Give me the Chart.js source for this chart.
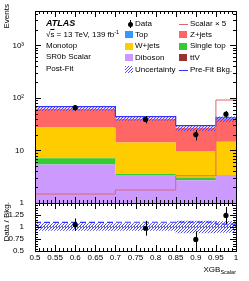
<!DOCTYPE html>
<html>
<head>
<meta charset="utf-8">
<script src="https://cdn.jsdelivr.net/npm/chart.js@4/dist/chart.umd.min.js"></script>
<style>
  body { margin: 0; background: #fff; }
  #wrap { position: relative; width: 249px; height: 281px; font-family: "Liberation Sans", Arial, sans-serif; color: #000; }
  canvas { position: absolute; left: 0; top: 0; }
  .t { position: absolute; font-size: 8px; line-height: 8px; white-space: nowrap; }
  .rot { position: absolute; left: 0; top: 0; font-size: 8px; line-height: 8px; white-space: nowrap; transform-origin: 0 0; }
  .sw { position: absolute; }
  sup { font-size: 5.5px; vertical-align: 0; position: relative; top: -3px; }
  sub { font-size: 5.5px; vertical-align: 0; position: relative; top: 2px; }
</style>
</head>
<body>
<div id="wrap">
  <canvas id="main" width="249" height="281"></canvas>
  <canvas id="ratio" width="249" height="281"></canvas>

  <div class="rot" style="transform: translate(3px, 4px) rotate(-90deg) translate(-100%, 0);">Events</div>
  <div class="rot" style="transform: translate(3px, 202px) rotate(-90deg) translate(-100%, 0);">Data / Bkg.</div>
  <div class="t" style="right:13px; top:266px;">XGB<sub>Scalar</sub></div>

  <div class="t" style="left:46px; top:19px; font-size:9px; font-weight:bold; font-style:italic;">ATLAS</div>
  <div class="t" style="left:46px; top:31px;">√<span style="text-decoration:overline">s</span> = 13 TeV, 139 fb<sup>-1</sup></div>
  <div class="t" style="left:46px; top:42px;">Monotop</div>
  <div class="t" style="left:46px; top:53px;">SR0b Scalar</div>
  <div class="t" style="left:46px; top:65px;">Post-Fit</div>

  <div id="legend"></div>
</div>

<script>
// bins of XGB_Scalar
const binEdges = [0.5, 0.7, 0.85, 0.95, 1.0];
const dataX = [0.6, 0.775, 0.9, 0.975];

// observed events
const dataCounts = [65, 39, 20, 49];
const dataErr = [8.1, 6.2, 4.5, 7.0];

// post-fit backgrounds (stacked bottom -> top)
const diboson = [5.4, 3.4, 2.7, 3.4];
const singleTop = [1.7, 0.15, 0.35, 0];
const ttV = [0, 0, 0, 0];
const topQuark = [0, 0, 0, 0];
const wjets = [20.1, 10.6, 6.7, 11.3];
const zjets = [34.8, 25.9, 17.2, 24.8];

const prefitBkg = [68, 44, 29.7, 41.8];
const uncRel = [0.08, 0.08, 0.13, 0.12];
const scalarX5 = [1.48, 1.77, 3.3, 91];

// axis ticks
const xTicks = [0.5, 0.55, 0.6, 0.65, 0.7, 0.75, 0.8, 0.85, 0.9, 0.95, 1.0];
const yTicksMain = [1, 10, 100, 1000];
const yLabelsMain = ['1', '10', '10²', '10³'];
const yTicksRatio = [0.5, 0.75, 1, 1.25];

Chart.defaults.font.family = '"Liberation Sans", Arial, sans-serif';
Chart.defaults.font.size = 8;
Chart.defaults.color = '#000';

// hatch pattern for the uncertainty band
function hatch() {
  const c = document.createElement('canvas');
  c.width = 3; c.height = 3;
  const g = c.getContext('2d');
  g.strokeStyle = '#4a4aff';
  g.lineWidth = 1;
  g.beginPath();
  g.moveTo(0, 3); g.lineTo(3, 0);
  g.moveTo(-1, 1); g.lineTo(1, -1);
  g.moveTo(2, 4); g.lineTo(4, 2);
  g.stroke();
  return g.createPattern(c, 'repeat');
}
const hatchFill = hatch();

// histogram as step points
const steps = vals => binEdges.map((x, i) => ({ x, y: vals[Math.min(i, vals.length - 1)] }));

const stackDefs = [
  ['Diboson', diboson, '#cc99ff'],
  ['Single top', singleTop, '#33cc33'],
  ['ttV', ttV, '#993333'],
  ['Top', topQuark, '#3399ff'],
  ['W+jets', wjets, '#ffcc00'],
  ['Z+jets', zjets, '#ff6666']
];

let cum = binEdges.slice(1).map(() => 0);
const stackSets = stackDefs.map(([label, vals, color], k) => {
  cum = cum.map((c, i) => c + vals[i]);
  return {
    label, data: steps(cum), stepped: 'before', fill: k === 0 ? 'start' : '-1',
    backgroundColor: color, borderColor: 'rgba(0,0,0,0)', borderWidth: 1, pointRadius: 0, order: 10
  };
});
const total = cum;

const ratioData = dataCounts.map((d, i) => d / total[i]);
const ratioErr = dataErr.map((e, i) => e / total[i]);
const ratioPrefit = prefitBkg.map((p, i) => p / total[i]);

// ROOT style frame and inner ticks
const frameTicks = {
  id: 'frameTicks',
  afterDatasetsDraw(chart, args, opts) {
    const { ctx, chartArea: a, scales: { x, y } } = chart;
    const px = v => Math.round(v) + 0.5;
    ctx.save();
    ctx.strokeStyle = '#000';
    ctx.lineWidth = 1;
    ctx.beginPath();
    const xt = (vals, len) => vals.forEach(v => {
      const p = px(x.getPixelForValue(v));
      ctx.moveTo(p, a.bottom); ctx.lineTo(p, a.bottom - len);
      ctx.moveTo(p, a.top); ctx.lineTo(p, a.top + len);
    });
    const yt = (vals, len) => vals.forEach(v => {
      const p = px(y.getPixelForValue(v));
      ctx.moveTo(a.left, p); ctx.lineTo(a.left + len, p);
      ctx.moveTo(a.right, p); ctx.lineTo(a.right - len, p);
    });
    xt(opts.xMajor, opts.majorLen); xt(opts.xMinor, opts.minorLen);
    yt(opts.yMajor, opts.majorLen); yt(opts.yMinor, opts.minorLen);
    ctx.stroke();
    ctx.strokeRect(px(a.left), px(a.top), Math.round(a.right - a.left), Math.round(a.bottom - a.top));
    ctx.restore();
  }
};

// vertical error bars on the data points
const errorBars = {
  id: 'errorBars',
  afterDatasetsDraw(chart) {
    const { ctx, scales: { x, y } } = chart;
    ctx.save();
    ctx.strokeStyle = '#000';
    ctx.lineWidth = 1;
    chart.data.datasets.forEach(ds => {
      if (!ds.errorBars) return;
      ds.data.forEach((p, i) => {
        const xp = Math.round(x.getPixelForValue(p.x)) + 0.5;
        ctx.beginPath();
        ctx.moveTo(xp, y.getPixelForValue(p.y - ds.errorBars[i]));
        ctx.lineTo(xp, y.getPixelForValue(p.y + ds.errorBars[i]));
        ctx.stroke();
      });
    });
    ctx.restore();
  }
};

const xMinor = [];
for (let v = 50; v <= 100; v++) if (v % 5) xMinor.push(v / 100);
const yMinorMain = [];
[1, 10, 100, 1000].forEach(d => { for (let k = 2; k <= 9; k++) if (k * d < 4500) yMinorMain.push(k * d); });
const yMinorRatio = [];
for (let v = 50; v <= 150; v += 5) if (v % 25) yMinorRatio.push(v / 100);

const common = {
  responsive: false,
  animation: false,
  events: [],
  plugins: { legend: { display: false }, tooltip: { enabled: false } }
};

new Chart(document.getElementById('main'), {
  type: 'line',
  data: {
    datasets: [
      ...stackSets,
      { label: 'unc low', data: steps(total.map((t, i) => t * (1 - uncRel[i]))), stepped: 'before',
        borderColor: 'rgba(0,0,0,0)', borderWidth: 1, pointRadius: 0, fill: false, order: 5 },
      { label: 'Uncertainty', data: steps(total.map((t, i) => t * (1 + uncRel[i]))), stepped: 'before',
        borderColor: 'rgba(0,0,0,0)', borderWidth: 1, pointRadius: 0, fill: '-1', backgroundColor: hatchFill, order: 5 },
      { label: 'Pre-Fit Bkg.', data: steps(prefitBkg), stepped: 'before', borderColor: '#3333ff',
        borderWidth: 1.2, pointRadius: 0, fill: false, order: 3 },
      { label: 'Scalar × 5', data: steps(scalarX5), stepped: 'before', borderColor: '#e06666',
        borderWidth: 1, pointRadius: 0, fill: false, order: 2 },
      { label: 'Data', data: dataX.map((x, i) => ({ x, y: dataCounts[i] })), showLine: false,
        pointRadius: 2.6, pointBackgroundColor: '#000', pointBorderWidth: 0, errorBars: dataErr, order: 0 }
    ]
  },
  options: {
    ...common,
    layout: { padding: { left: 0, right: 13, top: 11, bottom: 78 } },
    plugins: {
      ...common.plugins,
      frameTicks: { xMajor: xTicks, xMinor, yMajor: yTicksMain, yMinor: yMinorMain, majorLen: 6, minorLen: 3 }
    },
    scales: {
      x: { type: 'linear', min: 0.5, max: 1.0, display: false },
      y: {
        type: 'logarithmic', min: 1, max: 4500,
        afterFit: s => { s.width = 35; },
        afterBuildTicks: s => { s.ticks = yTicksMain.map(value => ({ value })); },
        grid: { display: false }, border: { display: false },
        ticks: { padding: 3, autoSkip: false, callback: v => yLabelsMain[yTicksMain.indexOf(v)] }
      }
    }
  },
  plugins: [frameTicks, errorBars]
});

new Chart(document.getElementById('ratio'), {
  type: 'line',
  data: {
    datasets: [
      { label: 'unc low', data: steps(uncRel.map(u => 1 - u)), stepped: 'before',
        borderColor: 'rgba(0,0,0,0)', borderWidth: 1, pointRadius: 0, fill: false, order: 5 },
      { label: 'unc high', data: steps(uncRel.map(u => 1 + u)), stepped: 'before',
        borderColor: 'rgba(0,0,0,0)', borderWidth: 1, pointRadius: 0, fill: '-1', backgroundColor: hatchFill, order: 5 },
      { label: 'unity', data: [{ x: 0.5, y: 1 }, { x: 1.0, y: 1 }], borderColor: '#000', borderWidth: 1,
        borderDash: [1, 2], pointRadius: 0, fill: false, order: 4 },
      { label: 'Pre-Fit', data: steps(ratioPrefit), stepped: 'before', borderColor: '#3333ff',
        borderWidth: 1.2, borderDash: [6, 3], pointRadius: 0, fill: false, order: 3 },
      { label: 'Data', data: dataX.map((x, i) => ({ x, y: ratioData[i] })), showLine: false,
        pointRadius: 2.6, pointBackgroundColor: '#000', pointBorderWidth: 0, errorBars: ratioErr, order: 0 }
    ]
  },
  options: {
    ...common,
    layout: { padding: { left: 0, right: 13, top: 203, bottom: 0 } },
    plugins: {
      ...common.plugins,
      frameTicks: { xMajor: xTicks, xMinor, yMajor: [...yTicksRatio, 1.5], yMinor: yMinorRatio, majorLen: 6, minorLen: 3 }
    },
    scales: {
      x: {
        type: 'linear', min: 0.5, max: 1.0,
        afterFit: s => { s.height = 30; },
        afterBuildTicks: s => { s.ticks = xTicks.map(value => ({ value })); },
        grid: { display: false }, border: { display: false },
        ticks: { padding: -6, autoSkip: false, maxRotation: 0, callback: v => String(+v.toFixed(2)) }
      },
      y: {
        type: 'linear', min: 0.5, max: 1.5,
        afterFit: s => { s.width = 35; },
        afterBuildTicks: s => { s.ticks = yTicksRatio.map(value => ({ value })); },
        grid: { display: false }, border: { display: false },
        ticks: { padding: 3, autoSkip: false, callback: v => String(v) }
      }
    }
  },
  plugins: [frameTicks, errorBars]
});

// legend, two columns
const legendCols = [
  { x: 125, textX: 135, items: [
    ['Data', 'data'], ['Top', '#3399ff'], ['W+jets', '#ffcc00'], ['Diboson', '#cc99ff'], ['Uncertainty', 'hatch']
  ] },
  { x: 179, textX: 190, items: [
    ['Scalar × 5', 'line:#e06666'], ['Z+jets', '#ff6666'], ['Single top', '#33cc33'], ['ttV', '#993333'], ['Pre-Fit Bkg.', 'line:#3333ff']
  ] }
];
const legendRows = [24, 34.5, 46, 57.5, 69.5];
const leg = document.getElementById('legend');
legendCols.forEach(col => col.items.forEach(([name, kind], r) => {
  const cy = legendRows[r];
  let sw = '';
  if (kind === 'data') {
    sw = `<div class="sw" style="left:${col.x + 5}px;top:${cy - 4}px;width:1px;height:8px;background:#000"></div>` +
         `<div class="sw" style="left:${col.x + 3}px;top:${cy - 2.5}px;width:5px;height:5px;border-radius:50%;background:#000"></div>`;
  } else if (kind === 'hatch') {
    sw = `<div class="sw" style="left:${col.x}px;top:${cy - 3.5}px;width:8px;height:7px;background:repeating-linear-gradient(135deg, #4a4aff 0 1px, #fff 1px 2.2px)"></div>`;
  } else if (kind.startsWith('line:')) {
    sw = `<div class="sw" style="left:${col.x}px;top:${cy}px;width:9px;height:1px;background:${kind.slice(5)}"></div>`;
  } else {
    sw = `<div class="sw" style="left:${col.x}px;top:${cy - 3.5}px;width:8px;height:7px;background:${kind}"></div>`;
  }
  leg.insertAdjacentHTML('beforeend', sw + `<div class="t" style="left:${col.textX}px;top:${cy - 4}px">${name}</div>`);
}));
</script>
</body>
</html>
